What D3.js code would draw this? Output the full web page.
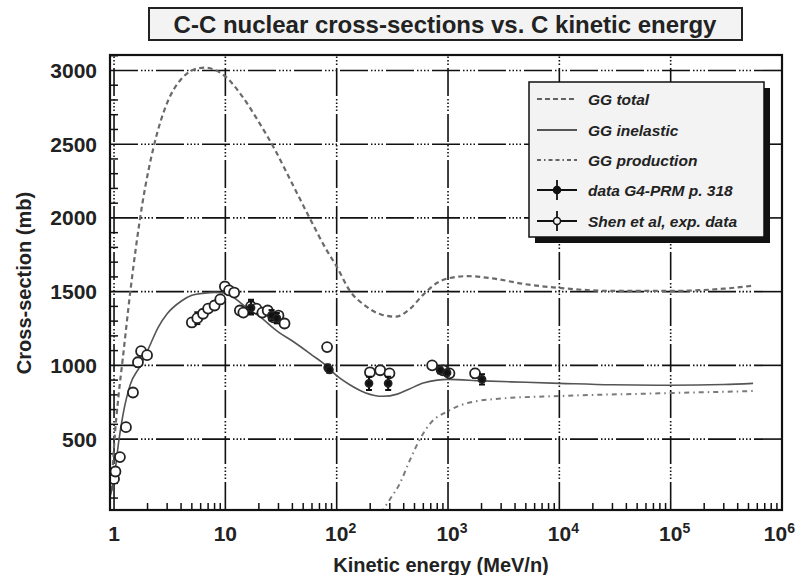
<!DOCTYPE html>
<html>
<head>
<meta charset="utf-8">
<script src="https://cdn.jsdelivr.net/npm/d3@7"></script>
<style>
  html, body { margin: 0; padding: 0; background: #fff; }
  svg { display: block; font-family: "Liberation Sans", Arial, Helvetica, sans-serif; }
</style>
</head>
<body>
<svg id="chart" width="796" height="575"></svg>
<script>
// Glauber-Gribov model curves: [kinetic energy MeV/n, cross-section mb]
const ggTotal = [
  [0.95, 150], [1.0, 450], [1.1, 800], [1.2, 1050], [1.4, 1500], [1.8, 2100],
  [2.3, 2500], [3, 2780], [4, 2940], [5, 3000], [6.5, 3020], [8, 3005],
  [10, 2960], [14, 2830], [20, 2650], [28, 2460], [40, 2230], [58, 1990],
  [80, 1790], [100, 1670], [130, 1510], [180, 1405], [250, 1345], [340, 1330],
  [450, 1380], [600, 1480], [800, 1560], [1000, 1590], [1500, 1605], [2500, 1590],
  [5000, 1550], [10000, 1525], [30000, 1505], [100000, 1505], [300000, 1520], [550000, 1540]
];
const ggInelastic = [
  [0.93, 120], [1.0, 230], [1.1, 480], [1.2, 660], [1.4, 870], [1.7, 990],
  [2.0, 1100], [2.5, 1260], [3.0, 1350], [4.0, 1435], [5.0, 1475], [6.5, 1490],
  [8.0, 1495], [10, 1490], [15, 1400], [20, 1335], [30, 1225], [40, 1165],
  [60, 1070], [80, 1000], [100, 930], [130, 870], [180, 815], [260, 790],
  [350, 805], [450, 840], [600, 880], [800, 900], [1000, 905], [2000, 895],
  [5000, 885], [10000, 878], [30000, 868], [100000, 865], [300000, 870], [550000, 878]
];
const ggProduction = [
  [250, 0], [300, 90], [370, 200], [450, 350], [560, 500], [700, 610],
  [1000, 690], [1500, 745], [3000, 775], [10000, 792], [100000, 812], [550000, 826]
];

// Measurements: [kinetic energy MeV/n, cross-section mb, error mb]
const dataG4PRM = [
  [17, 1390, 45], [26, 1340, 35], [29, 1320, 35], [83, 985, 20], [86, 970, 20],
  [195, 878, 45], [290, 878, 45], [850, 966, 20], [980, 950, 20], [2020, 905, 35]
];
const dataShen = [
  [1.0, 230, 0], [1.03, 280, 0], [1.13, 378, 0], [1.28, 581, 0], [1.48, 816, 0],
  [1.64, 1021, 30], [1.75, 1096, 0], [1.98, 1069, 0], [5.0, 1291, 20], [5.6, 1320, 40],
  [6.3, 1350, 0], [7.0, 1385, 0], [8.0, 1406, 0], [9.0, 1447, 0], [9.9, 1535, 0],
  [10.8, 1508, 0], [12.0, 1494, 0], [13.5, 1372, 0], [14.5, 1358, 0], [17, 1400, 45],
  [19, 1385, 0], [21.5, 1358, 0], [24, 1372, 0], [27, 1325, 0], [30, 1338, 0],
  [34, 1284, 0], [82, 1124, 0], [199, 953, 0], [246, 967, 0], [298, 946, 0],
  [720, 1000, 0], [900, 966, 0], [1030, 946, 0], [1750, 946, 30]
];

const yTicks = [500, 1000, 1500, 2000, 2500, 3000];
const xDecades = [1, 10, 100, 1000, 10000, 100000, 1000000];
const xTickExp = [null, null, "2", "3", "4", "5", "6"];

const titleText = "C-C nuclear cross-sections vs. C kinetic energy";
const xTitle = "Kinetic energy (MeV/n)";
const yTitle = "Cross-section (mb)";
const legendLabels = ["GG total", "GG inelastic", "GG production", "data G4-PRM p. 318", "Shen et al, exp. data"];

const svg = d3.select("#chart");
const L = 110, R = 782, T = 55, B = 510;

const x = d3.scaleLog().domain([0.92, 1e6]).range([L, R]);
const y = d3.scaleLinear().domain([19, 3105]).range([B, T]);

svg.append("defs").append("clipPath").attr("id", "plotclip")
  .append("rect").attr("x", L).attr("y", T).attr("width", R - L).attr("height", B - T);

// Title box
svg.append("rect").attr("x", 149).attr("y", 8).attr("width", 593).attr("height", 32)
  .attr("fill", "#f3f3f3").attr("stroke", "#222").attr("stroke-width", 2);
svg.append("text").attr("x", 445).attr("y", 32.5).attr("text-anchor", "middle")
  .attr("font-size", 24).attr("font-weight", "bold").attr("fill", "#222").text(titleText);

// Grid (dash + dots pattern)
const gridDash = "28,3,1.5,2,1.5,2,1.5,2,1.5,3";
const grid = svg.append("g").attr("stroke", "#111").attr("stroke-width", 1.6).attr("fill", "none");
yTicks.forEach(v => {
  grid.append("line").attr("x1", L).attr("x2", R).attr("y1", y(v)).attr("y2", y(v))
    .attr("stroke-dasharray", gridDash);
});
xDecades.slice(0, 6).forEach(v => {
  grid.append("line").attr("x1", x(v)).attr("x2", x(v)).attr("y1", B).attr("y2", T)
    .attr("stroke-dasharray", gridDash);
});

// Minor ticks
const ticks = svg.append("g").attr("stroke", "#111").attr("stroke-width", 1.5);
for (let v = 100; v <= 3100; v += 100) {
  if (v % 500 === 0) continue;
  ticks.append("line").attr("x1", L).attr("x2", L + 8).attr("y1", y(v)).attr("y2", y(v));
}
for (let d = 0; d < 6; d++) {
  for (let m = 2; m <= 9; m++) {
    const v = m * Math.pow(10, d);
    ticks.append("line").attr("x1", x(v)).attr("x2", x(v)).attr("y1", B).attr("y2", B - 7);
  }
}

// Curves
const line = d3.line().x(d => x(d[0])).y(d => y(d[1])).curve(d3.curveMonotoneX);
const curves = svg.append("g").attr("clip-path", "url(#plotclip)").attr("fill", "none");
curves.append("path").datum(ggTotal).attr("d", line)
  .attr("stroke", "#6a6a6a").attr("stroke-width", 2.2).attr("stroke-dasharray", "5,3.5");
curves.append("path").datum(ggInelastic).attr("d", line)
  .attr("stroke", "#555").attr("stroke-width", 1.6);
curves.append("path").datum(ggProduction).attr("d", line)
  .attr("stroke", "#7a7a7a").attr("stroke-width", 2).attr("stroke-dasharray", "5,4,1.5,4");

// Data points with error bars
function drawPoints(data, filled) {
  const g = svg.append("g").attr("clip-path", "url(#plotclip)");
  data.forEach(d => {
    const cx = x(d[0]), cy = y(d[1]);
    if (d[2] > 0) {
      const y1 = y(d[1] + d[2]), y2 = y(d[1] - d[2]);
      g.append("line").attr("x1", cx).attr("x2", cx).attr("y1", y1).attr("y2", y2)
        .attr("stroke", "#111").attr("stroke-width", 2);
      [y1, y2].forEach(yy => g.append("line").attr("x1", cx - 3).attr("x2", cx + 3)
        .attr("y1", yy).attr("y2", yy).attr("stroke", "#111").attr("stroke-width", 2));
    }
    g.append("circle").attr("cx", cx).attr("cy", cy).attr("r", filled ? 3.5 : 5)
      .attr("fill", filled ? "#111" : "#fff").attr("stroke", "#222").attr("stroke-width", 1.8);
  });
}
drawPoints(dataShen, false);
drawPoints(dataG4PRM, true);

// Frame
svg.append("rect").attr("x", L).attr("y", T).attr("width", R - L).attr("height", B - T)
  .attr("fill", "none").attr("stroke", "#111").attr("stroke-width", 2.2);

// Y tick labels
svg.append("g").selectAll("text").data(yTicks).join("text")
  .attr("x", 97).attr("y", d => y(d) + 7.5).attr("text-anchor", "end")
  .attr("font-size", 21).attr("font-weight", "bold").attr("fill", "#222")
  .text(d => d);

// X tick labels
xDecades.forEach((v, i) => {
  const t = svg.append("text").attr("x", x(v)).attr("y", 541).attr("text-anchor", "middle")
    .attr("font-size", 21).attr("font-weight", "bold").attr("fill", "#222");
  if (i === 0) t.text("1");
  else if (i === 1) t.text("10");
  else {
    if (i === xDecades.length - 1) t.attr("x", 795).attr("text-anchor", "end");
    else t.attr("dx", 4);
    t.append("tspan").text("10");
    t.append("tspan").attr("font-size", 14).attr("dy", -8).text(xTickExp[i]);
  }
});

// Axis titles
svg.append("text").attr("x", 441).attr("y", 572).attr("text-anchor", "middle")
  .attr("font-size", 20).attr("font-weight", "bold").attr("fill", "#222").text(xTitle);
svg.append("text").attr("transform", "translate(31,283) rotate(-90)").attr("text-anchor", "middle")
  .attr("font-size", 20).attr("font-weight", "bold").attr("fill", "#222").text(yTitle);

// Legend
const lg = svg.append("g");
lg.append("rect").attr("x", 535).attr("y", 88).attr("width", 235).attr("height", 155).attr("fill", "#111");
lg.append("rect").attr("x", 529).attr("y", 82).attr("width", 235).attr("height", 155)
  .attr("fill", "#f3f3f3").attr("stroke", "#111").attr("stroke-width", 1.5);
const rowY = [99, 130, 160, 190, 221];
const lx1 = 537, lx2 = 577, lxm = 557;
lg.append("line").attr("x1", lx1).attr("x2", lx2).attr("y1", rowY[0]).attr("y2", rowY[0])
  .attr("stroke", "#333").attr("stroke-width", 1.5).attr("stroke-dasharray", "5,3");
lg.append("line").attr("x1", lx1).attr("x2", lx2).attr("y1", rowY[1]).attr("y2", rowY[1])
  .attr("stroke", "#222").attr("stroke-width", 1.5);
lg.append("line").attr("x1", lx1).attr("x2", lx2).attr("y1", rowY[2]).attr("y2", rowY[2])
  .attr("stroke", "#333").attr("stroke-width", 1.5).attr("stroke-dasharray", "4,3,1.5,3,4,3");
[3, 4].forEach(k => {
  const yy = rowY[k];
  lg.append("line").attr("x1", lx1).attr("x2", lx2).attr("y1", yy).attr("y2", yy)
    .attr("stroke", "#111").attr("stroke-width", 1.8);
  lg.append("line").attr("x1", lxm).attr("x2", lxm).attr("y1", yy - 10).attr("y2", yy + 10)
    .attr("stroke", "#111").attr("stroke-width", 1.8);
  lg.append("circle").attr("cx", lxm).attr("cy", yy).attr("r", 3.5)
    .attr("fill", k === 3 ? "#111" : "#f3f3f3").attr("stroke", "#111").attr("stroke-width", 1.5);
});
lg.selectAll("text.lab").data(legendLabels).join("text").attr("class", "lab")
  .attr("x", 588).attr("y", (d, i) => rowY[i] + 5.5)
  .attr("font-size", 15.5).attr("font-weight", "bold").attr("font-style", "italic")
  .attr("fill", "#222").text(d => d);
</script>
</body>
</html>
